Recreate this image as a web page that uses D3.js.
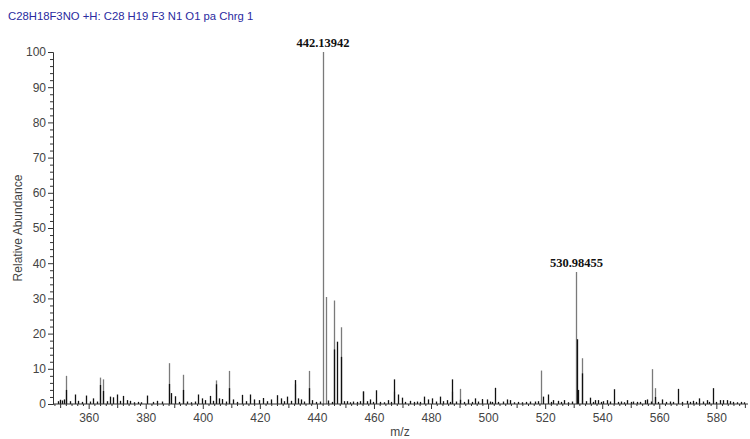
<!DOCTYPE html>
<html>
<head>
<meta charset="utf-8">
<script src="https://cdn.jsdelivr.net/npm/d3@7"></script>
<style>
  html, body { margin: 0; padding: 0; background: #fff; }
  svg { display: block; }
</style>
</head>
<body>
<svg id="chart" width="750" height="439"></svg>
<script>
// Spectrum header
const title = "C28H18F3NO +H: C28 H19 F3 N1 O1 pa Chrg 1";

// Profile peaks (grey): m/z and relative abundance
const profileMz = [352.1, 364.0, 364.9, 388.0, 393.0, 404.5, 409.3, 432.3, 437.2,
  442.14, 443.14, 446.1, 448.6, 456.3, 467.0, 487.5, 490.2,
  518.4, 530.98455, 533.0, 557.6, 558.5];
const profileAb = [8.0, 7.5, 7.0, 11.6, 8.3, 6.7, 9.4, 5.6, 9.4,
  100, 30.4, 29.4, 21.8, 3.7, 3.5, 3.5, 4.3,
  9.5, 37.5, 13.0, 9.9, 4.5];

// Centroid / noise peaks (black)
const centroidMz = [349.2, 350.1, 350.8, 351.4, 352.1, 353.3, 355.3, 356.4, 357.6, 359.1, 360.4, 361.6, 363.0,
  364.0, 364.9, 366.3, 367.5, 368.6, 369.8, 371.0, 372.1, 373.4, 374.6, 376.0, 377.3, 378.5, 380.6,
  382.4, 384.0, 385.8, 388.0, 388.9, 390.3, 391.6, 393.0, 394.6, 396.0, 397.3, 398.4, 399.6, 400.8,
  402.5, 403.5, 404.5, 405.6, 406.6, 408.0, 409.3, 410.6, 412.0, 413.9, 415.2, 416.6, 418.0, 419.6,
  421.2, 422.6, 424.0, 425.9, 427.3, 428.4, 429.6, 431.0, 432.3, 433.5, 434.3, 435.6, 437.2, 438.4,
  439.6, 441.0, 444.0, 445.2, 446.0, 447.1, 448.5, 449.5, 450.4, 451.6, 452.8, 453.9, 455.0, 456.3,
  457.4, 458.6, 459.6, 460.6, 462.0, 463.4, 465.0, 466.0, 467.0, 468.4, 469.7, 471.0, 472.6, 474.0,
  475.0, 476.3, 477.5, 479.0, 480.2, 481.6, 483.1, 484.3, 485.5, 486.5, 487.5, 488.6, 490.2, 491.6,
  493.1, 494.4, 495.5, 496.6, 497.8, 499.5, 500.6, 501.5, 502.4, 503.6, 505.2, 506.5, 507.7, 509.0,
  510.6, 512.0, 513.4, 514.7, 516.4, 517.6, 519.3, 520.9, 522.0, 522.8, 524.6, 525.6, 526.6, 528.0,
  529.3, 531.05, 531.6, 533.0, 534.4, 535.7, 536.6, 537.5, 538.6, 539.5, 540.4, 541.6, 542.8, 544.1,
  545.4, 546.6, 547.6, 548.8, 550.0, 550.9, 552.2, 553.4, 555.0, 555.8, 557.0, 558.5, 559.6, 561.1,
  562.4, 563.6, 564.8, 566.7, 567.8, 569.6, 570.6, 571.7, 573.0, 574.0, 575.2, 576.6, 577.6, 578.7,
  580.0, 581.2, 582.4, 583.6, 584.8, 586.0, 587.4, 588.6, 589.8];
const centroidAb = [0.8, 1.2, 1.0, 1.3, 4.0, 0.8, 2.7, 0.9, 0.6, 2.4, 0.7, 1.6, 0.7,
  5.4, 3.7, 0.8, 2.1, 1.9, 2.7, 0.9, 2.3, 1.1, 0.9, 0.5, 0.6, 0.5, 2.4,
  0.6, 0.9, 0.7, 5.7, 3.1, 2.2, 0.6, 4.0, 0.7, 0.5, 0.7, 2.7, 1.6, 1.1,
  2.3, 0.9, 5.6, 1.6, 1.4, 0.7, 4.5, 1.3, 0.6, 2.6, 0.8, 2.7, 1.3, 1.1,
  1.7, 0.8, 1.3, 2.5, 1.6, 0.8, 2.1, 0.9, 6.8, 1.6, 1.3, 0.7, 4.5, 1.1,
  0.6, 0.7, 1.0, 0.6, 15.5, 17.7, 13.4, 0.8, 0.8, 0.5, 0.7, 0.6, 0.8, 3.5,
  0.8, 1.3, 0.6, 3.9, 0.6, 0.5, 1.1, 0.6, 7.0, 2.7, 1.8, 0.6, 0.9, 0.6,
  0.7, 0.6, 2.1, 1.3, 1.6, 0.7, 2.1, 0.8, 1.1, 0.6, 7.0, 0.7, 1.2, 0.6,
  1.3, 0.6, 1.6, 0.7, 1.4, 1.3, 0.7, 0.6, 4.6, 0.6, 0.7, 1.3, 1.1, 0.5,
  0.6, 0.5, 0.6, 0.7, 0.7, 0.8, 2.1, 2.7, 0.6, 1.1, 0.9, 0.6, 1.1, 0.5,
  0.7, 18.4, 4.0, 8.7, 0.8, 1.8, 0.6, 1.1, 1.1, 0.6, 0.8, 1.1, 0.7, 4.2,
  0.6, 0.7, 0.5, 1.1, 0.6, 0.7, 0.6, 0.6, 1.1, 1.3, 0.7, 2.0, 0.6, 1.3,
  0.6, 0.7, 0.6, 4.3, 0.6, 0.9, 0.6, 0.9, 0.6, 1.6, 0.7, 1.1, 0.6, 4.5,
  0.6, 1.1, 1.1, 1.1, 0.8, 0.6, 0.5, 0.6, 0.5];

// Annotated peaks
const labelMz = [442.14, 530.98455];
const labelText = ["442.13942", "530.98455"];
const labelAb = [100, 37.5];

// Axis settings
const xDomain = [347.5, 591.1];
const yDomain = [0, 100];
const xMajorTicks = d3.range(360, 581, 20);
const yMajorTicks = d3.range(0, 101, 10);

const svg = d3.select("#chart");
const plotLeft = 53, plotRight = 748, plotTop = 52, plotBottom = 404;

const x = d3.scaleLinear().domain(xDomain).range([plotLeft, plotRight]);
const y = d3.scaleLinear().domain(yDomain).range([plotBottom, plotTop]);

const axisColor = "#333";
const tickTextColor = "#444";
const sans = "'Liberation Sans', Arial, sans-serif";

// Title
svg.append("text")
  .attr("x", 8).attr("y", 20)
  .attr("font-family", sans).attr("font-size", 11.3)
  .attr("fill", "#2a2aa0")
  .text(title);

// Peaks
const g = svg.append("g");
g.selectAll("line.profile")
  .data(profileMz.map((m, i) => ({ m, a: profileAb[i] })))
  .join("line")
  .attr("class", "profile")
  .attr("x1", d => Math.round(x(d.m)) + 0.5).attr("x2", d => Math.round(x(d.m)) + 0.5)
  .attr("y1", y(0)).attr("y2", d => y(d.a))
  .attr("stroke", "#7a7a7a").attr("stroke-width", 1.3);

g.selectAll("line.centroid")
  .data(centroidMz.map((m, i) => ({ m, a: centroidAb[i] })))
  .join("line")
  .attr("class", "centroid")
  .attr("x1", d => Math.round(x(d.m)) + 0.5).attr("x2", d => Math.round(x(d.m)) + 0.5)
  .attr("y1", y(0)).attr("y2", d => y(d.a))
  .attr("stroke", "#111").attr("stroke-width", 1.3);

// Y axis
const yAxis = d3.axisLeft(y).tickValues(yMajorTicks).tickSize(5).tickPadding(2);
const yg = svg.append("g").attr("transform", `translate(${plotLeft},0)`).call(yAxis);
yg.select(".domain").attr("stroke", axisColor);
yg.selectAll(".tick line").attr("stroke", axisColor);
yg.selectAll(".tick text").attr("font-family", sans).attr("font-size", 12).attr("fill", tickTextColor);
const yMinor = d3.axisLeft(y).tickValues(d3.range(0, 101, 2).filter(v => v % 10 !== 0)).tickSize(3).tickFormat("");
const ymg = svg.append("g").attr("transform", `translate(${plotLeft},0)`).call(yMinor);
ymg.select(".domain").remove();
ymg.selectAll(".tick line").attr("stroke", axisColor);

// X axis
const xAxis = d3.axisBottom(x).tickValues(xMajorTicks).tickSize(5).tickPadding(4).tickFormat(d3.format("d"));
const xg = svg.append("g").attr("transform", `translate(0,${plotBottom})`).call(xAxis);
xg.select(".domain").attr("stroke", axisColor).attr("d", `M${plotLeft},0H${plotRight}`);
xg.selectAll(".tick line").attr("stroke", axisColor);
xg.selectAll(".tick text").attr("font-family", sans).attr("font-size", 12).attr("fill", tickTextColor);
const xMid = d3.axisBottom(x).tickValues(d3.range(350, 591, 10).filter(v => v % 20 !== 0)).tickSize(4).tickFormat("");
const xmg = svg.append("g").attr("transform", `translate(0,${plotBottom})`).call(xMid);
xmg.select(".domain").remove();
xmg.selectAll(".tick line").attr("stroke", axisColor);
const xMinor = d3.axisBottom(x).tickValues(d3.range(348, 591, 2).filter(v => v % 10 !== 0)).tickSize(2).tickFormat("");
const xng = svg.append("g").attr("transform", `translate(0,${plotBottom})`).call(xMinor);
xng.select(".domain").remove();
xng.selectAll(".tick line").attr("stroke", axisColor);

// Axis titles
svg.append("text")
  .attr("x", 400).attr("y", 436)
  .attr("text-anchor", "middle")
  .attr("font-family", sans).attr("font-size", 12).attr("fill", tickTextColor)
  .text("m/z");
svg.append("text")
  .attr("transform", `translate(22,${(plotTop + plotBottom) / 2}) rotate(-90)`)
  .attr("text-anchor", "middle")
  .attr("font-family", sans).attr("font-size", 12).attr("fill", tickTextColor)
  .text("Relative Abundance");

// Peak annotations
svg.selectAll("text.peak")
  .data(labelMz.map((m, i) => ({ m, t: labelText[i], a: labelAb[i] })))
  .join("text")
  .attr("class", "peak")
  .attr("x", d => x(d.m)).attr("y", d => y(d.a) - 5)
  .attr("text-anchor", "middle")
  .attr("font-family", "'Liberation Serif', 'Times New Roman', serif")
  .attr("font-weight", "bold").attr("font-size", 12.5).attr("fill", "#111")
  .text(d => d.t);
</script>
</body>
</html>
